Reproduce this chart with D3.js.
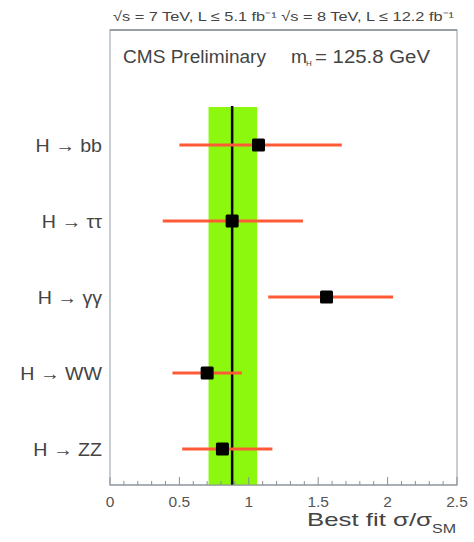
<!DOCTYPE html>
<html>
<head>
<meta charset="utf-8">
<script src="https://cdn.jsdelivr.net/npm/d3@7"></script>
<style>
  html, body { margin: 0; padding: 0; background: #fff; }
  svg { display: block; font-family: "Liberation Sans", Arial, sans-serif; }
</style>
</head>
<body>
<svg id="chart" width="474" height="542"></svg>
<script>
// Signal strength per decay channel (best fit and 68% interval)
const channels = ["H \u2192 bb", "H \u2192 \u03c4\u03c4", "H \u2192 \u03b3\u03b3", "H \u2192 WW", "H \u2192 ZZ"];
const bestFit  = [1.07, 0.88, 1.56, 0.70, 0.81];
const lowErr   = [0.50, 0.38, 1.14, 0.45, 0.52];
const highErr  = [1.67, 1.39, 2.04, 0.95, 1.17];

// Combined result: central value and band
const combined = 0.88;
const combinedBand = [0.71, 1.06];

const xTicks = [0, 0.5, 1, 1.5, 2, 2.5];
const xDomain = [0, 2.5];

const svg = d3.select("#chart");
const plotL = 110, plotR = 457, plotT = 30, plotB = 485;
const textColor = "#444";
const stretch = 1.06; // wide lettering of the labels

// widen a text element horizontally to the given factor
function widen(sel, f) {
  sel.each(function () {
    const w = this.getComputedTextLength();
    d3.select(this).attr("textLength", w * f).attr("lengthAdjust", "spacingAndGlyphs");
  });
}

const x = d3.scaleLinear().domain(xDomain).range([plotL, plotR]);
const y = d3.scalePoint().domain(channels).range([145, 449]);

// Header line
svg.append("text")
  .attr("x", 113).attr("y", 21)
  .attr("font-size", 13.5).attr("fill", textColor)
  .attr("textLength", 341).attr("lengthAdjust", "spacingAndGlyphs")
  .text("\u221as = 7 TeV, L \u2264 5.1 fb\u207b\u00b9  \u221as = 8 TeV, L \u2264 12.2 fb\u207b\u00b9");

// Frame
svg.append("rect")
  .attr("x", plotL).attr("y", plotT)
  .attr("width", plotR - plotL).attr("height", plotB - plotT)
  .attr("fill", "#fff").attr("stroke", "#b8bec6").attr("stroke-width", 1.5);
svg.append("line")
  .attr("x1", plotL).attr("x2", plotR).attr("y1", plotT).attr("y2", plotT)
  .attr("stroke", "#8a8f95").attr("stroke-width", 1.5);

// Combined band and line
svg.append("rect")
  .attr("x", x(combinedBand[0])).attr("y", 107)
  .attr("width", x(combinedBand[1]) - x(combinedBand[0]))
  .attr("height", plotB - 107)
  .attr("fill", "#8cf80e");
svg.append("line")
  .attr("x1", x(combined)).attr("x2", x(combined))
  .attr("y1", 106).attr("y2", plotB)
  .attr("stroke", "#000").attr("stroke-width", 2.5);

// Bottom axis with ticks pointing inward
const minor = d3.range(0, 2.5001, 0.1);
const ag = svg.append("g");
ag.append("line")
  .attr("x1", plotL).attr("x2", plotR).attr("y1", plotB).attr("y2", plotB)
  .attr("stroke", "#8a8f95").attr("stroke-width", 1.2);
ag.selectAll("line.tick").data(minor).join("line")
  .attr("class", "tick")
  .attr("x1", d => x(d)).attr("x2", d => x(d))
  .attr("y1", plotB)
  .attr("y2", d => Math.abs(d * 2 - Math.round(d * 2)) < 1e-6 ? plotB - 8 : plotB - 4)
  .attr("stroke", "#8a8f95").attr("stroke-width", 1);
ag.selectAll("text").data(xTicks).join("text")
  .attr("x", d => x(d)).attr("y", 507)
  .attr("text-anchor", "middle").attr("font-size", 15.5).attr("fill", "#555")
  .text(d => d3.format("")(d));

// Axis title
svg.append("text")
  .attr("x", 307).attr("y", 526)
  .attr("font-size", 18.5).attr("fill", textColor)
  .attr("textLength", 125).attr("lengthAdjust", "spacingAndGlyphs")
  .text("Best fit \u03c3/\u03c3");
svg.append("text")
  .attr("x", 432).attr("y", 533)
  .attr("font-size", 12.5).attr("fill", textColor)
  .attr("textLength", 24).attr("lengthAdjust", "spacingAndGlyphs")
  .text("SM");

// Label inside frame
svg.append("text").attr("x", 123).attr("y", 63)
  .attr("font-size", 17.5).attr("fill", textColor)
  .attr("textLength", 143).attr("lengthAdjust", "spacingAndGlyphs")
  .text("CMS Preliminary");
svg.append("text").attr("x", 291).attr("y", 63)
  .attr("font-size", 17.5).attr("fill", textColor)
  .attr("textLength", 16).attr("lengthAdjust", "spacingAndGlyphs")
  .text("m");
svg.append("text").attr("x", 306).attr("y", 66)
  .attr("font-size", 8).attr("fill", textColor)
  .text("H");
svg.append("text").attr("x", 315).attr("y", 63)
  .attr("font-size", 17.5).attr("fill", textColor)
  .attr("textLength", 115).attr("lengthAdjust", "spacingAndGlyphs")
  .text("= 125.8 GeV");

// Channel labels
svg.selectAll("text.ch").data(channels).join("text")
  .attr("class", "ch")
  .attr("x", 102).attr("y", d => y(d) + 7)
  .attr("text-anchor", "end").attr("font-size", 18.5).attr("fill", textColor)
  .text(d => d)
  .call(widen, stretch);

// Error bars and best-fit markers
const pts = channels.map((c, i) => ({ c, v: bestFit[i], lo: lowErr[i], hi: highErr[i] }));
svg.selectAll("line.err").data(pts).join("line")
  .attr("class", "err")
  .attr("x1", d => x(d.lo)).attr("x2", d => x(d.hi))
  .attr("y1", d => y(d.c)).attr("y2", d => y(d.c))
  .attr("stroke", "#ff5a36").attr("stroke-width", 3);
const ms = 13;
svg.selectAll("rect.pt").data(pts).join("rect")
  .attr("class", "pt")
  .attr("x", d => x(d.v) - ms / 2).attr("y", d => y(d.c) - ms / 2)
  .attr("width", ms).attr("height", ms).attr("rx", 1.5)
  .attr("fill", "#000");
</script>
</body>
</html>
